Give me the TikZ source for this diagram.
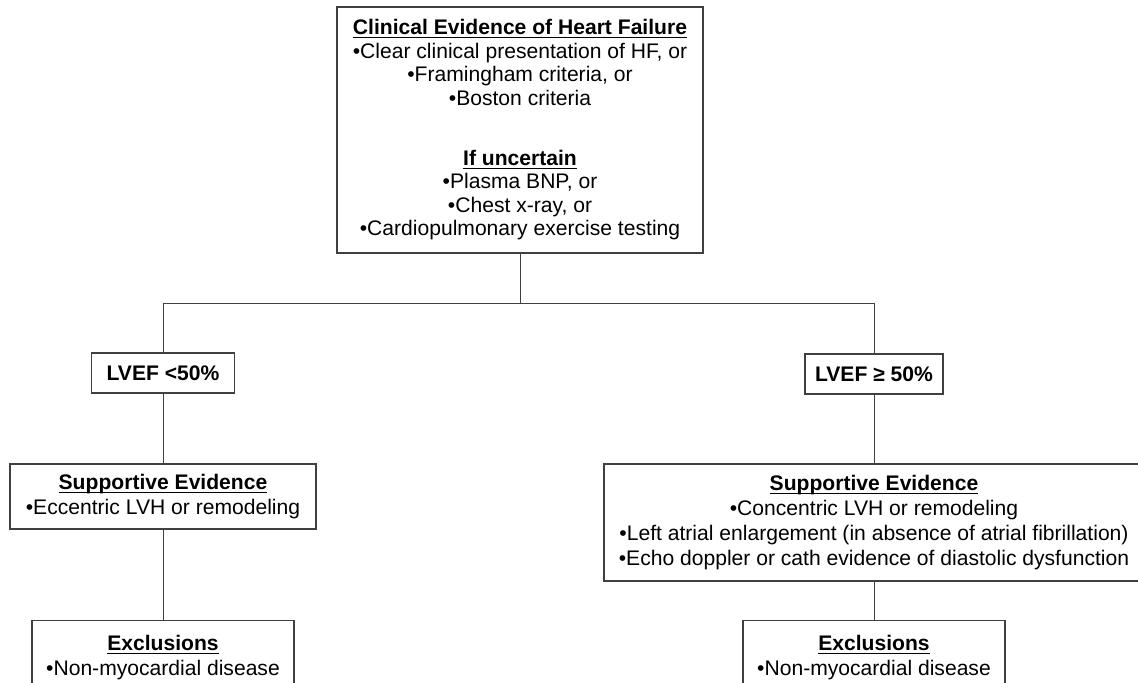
\documentclass[tikz,border=0pt]{standalone}
\usepackage{fontspec}
\setmainfont{Liberation Sans}
\usepackage{tikz}

\newlength{\headwd}
\newcommand{\uhead}[1]{\settowidth{\headwd}{\textbf{#1}}\textbf{#1}\hspace{-\headwd}\rule[-2.5pt]{\headwd}{1pt}}

\begin{document}
\begin{tikzpicture}[x=0.025cm, y=-0.025cm,
    box/.style={draw=black!75, line width=0.9pt, align=center, inner sep=0pt,
      font=\fontsize{15}{16.7}\selectfont},
    widebox/.style={box, font=\fontsize{15}{17.8}\selectfont},
    conn/.style={draw=black!75, line width=0.7pt}]
  \useasboundingbox (0,0) rectangle (1138,683);
  \clip (0,0) rectangle (1138,683);

  \node[box, minimum width=9.15cm, minimum height=6.15cm] (hf) at (520,130) {\uhead{Clinical Evidence of Heart Failure}\\
    •Clear clinical presentation of HF, or\\
    •Framingham criteria, or\\
    •Boston criteria\\[26pt]
    \uhead{If uncertain}\\
    •Plasma BNP, or\\
    •Chest x-ray, or\\
    •Cardiopulmonary exercise testing};

  \node[box, minimum width=3.575cm, minimum height=1cm] (lvefL) at (163,373) {\textbf{LVEF <50\%}};
  \node[box, minimum width=3.45cm, minimum height=1cm] (lvefR) at (874,374) {\textbf{LVEF ≥ 50\%}};

  \node[widebox, minimum width=7.65cm, minimum height=1.625cm] (suppL) at (163,496.5) {\uhead{Supportive Evidence}\\
    •Eccentric LVH or remodeling};
  \node[widebox, minimum width=13.5cm, minimum height=2.925cm] (suppR) at (874,522.5) {\uhead{Supportive Evidence}\\
    •Concentric LVH or remodeling\\
    •Left atrial enlargement (in absence of atrial fibrillation)\\
    •Echo doppler or cath evidence of diastolic dysfunction};

  \node[widebox, minimum width=6.55cm, anchor=north, inner ysep=0.375cm, text depth=3cm] (exclL) at (163,620) {\uhead{Exclusions}\\
    •Non-myocardial disease};
  \node[widebox, minimum width=6.55cm, anchor=north, inner ysep=0.375cm, text depth=3cm] (exclR) at (874,620) {\uhead{Exclusions}\\
    •Non-myocardial disease};

  \path (hf.south) ++(0,50) coordinate (fork);
  \draw[conn] (hf.south) -- (fork);
  \draw[conn] (lvefL.north) |- (fork) -| (lvefR.north);
  \draw[conn] (lvefL) -- (suppL);
  \draw[conn] (suppL) -- (exclL);
  \draw[conn] (lvefR) -- (suppR);
  \draw[conn] (suppR) -- (exclR);
\end{tikzpicture}
\end{document}
